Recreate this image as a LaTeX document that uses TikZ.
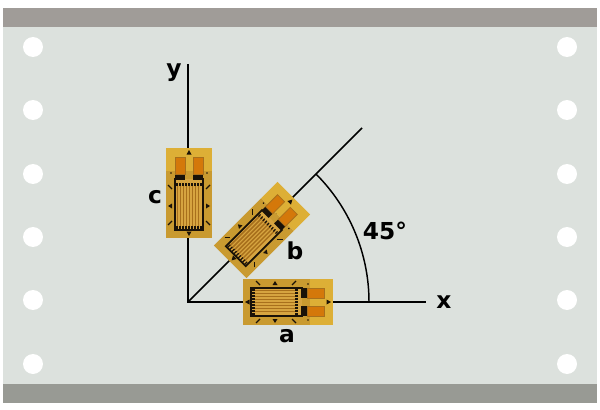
\documentclass[tikz,border=0pt]{standalone}
\usepackage{fontspec}
\setmainfont{DejaVu Sans}
\definecolor{panel}{HTML}{DCE1DD}
\definecolor{bandtop}{HTML}{A09C98}
\definecolor{bandbot}{HTML}{989A94}
\definecolor{backdark}{HTML}{C99A30}
\definecolor{backlight}{HTML}{DDAF36}
\definecolor{padorange}{HTML}{D4780A}
\definecolor{gridbrown}{HTML}{A8701C}
\definecolor{gridlight}{HTML}{D6A440}
\definecolor{inkdark}{HTML}{1A1208}
\tikzset{
  lbl/.style={font=\bfseries\fontsize{17.5}{19}\selectfont,text=black,inner sep=0pt},
  mark tick/.style={draw=inkdark,line width=0.9pt},
  gauge/.pic={
    % Backing
    \fill[backdark] (-45,-23) rectangle (22,23);
    \fill[backlight] (22,-23) rectangle (45,23);
    % Grid
    \fill[gridlight] (-36,-13) rectangle (14,13);
    \foreach \gy in {-11.5,-8.5,...,12}
      \draw[gridbrown,line width=1.1pt] (-34,\gy) -- (9,\gy);
    \foreach \gy in {-12,-9,...,12} {
      \draw[inkdark,line width=0.9pt] (-36.5,\gy) -- (-33,\gy);
      \draw[inkdark,line width=0.9pt] (7,\gy) -- (10,\gy);
    }
    % Outline
    \draw[inkdark,line width=1.3pt] (14,4) -- (14,14) -- (-37,14) -- (-37,-14) -- (14,-14) -- (14,-4);
    % Pads
    \fill[inkdark] (14,4) rectangle (20,14);
    \fill[inkdark] (14,-14) rectangle (20,-4);
    \fill[padorange] (19,4) rectangle (36,14);
    \fill[padorange] (19,-14) rectangle (36,-4);
    \draw[gridbrown,line width=0.6pt] (19,4) rectangle (36,14);
    \draw[gridbrown,line width=0.6pt] (19,-14) rectangle (36,-4);
    % Alignment marks
    \foreach \s in {1,-1} {
      \draw[mark tick] (-32,{\s*21}) -- (-28,{\s*17});
      \draw[mark tick] (4,{\s*17}) -- (8,{\s*21});
      \fill[inkdark] (-13,{\s*21}) -- (-15.5,{\s*17}) -- (-10.5,{\s*17}) -- cycle;
      \fill[inkdark] (20,{\s*18}) circle (0.9);
    }
    \fill[inkdark] (-43,0) -- (-38.5,-2.5) -- (-38.5,2.5) -- cycle;
    \fill[inkdark] (43,0) -- (38.5,-2.5) -- (38.5,2.5) -- cycle;
  }
}
\begin{document}
\begin{tikzpicture}[x=0.75pt,y=-0.75pt]
\useasboundingbox (0,0) rectangle (600,410);
% Panel and bands
\fill[panel] (3,8) rectangle (597,403);
\fill[bandtop] (3,8) rectangle (597,27);
\fill[bandbot] (3,384) rectangle (597,403);
% Holes
\foreach \hy in {47,110,174,237,300,364} {
  \fill[white] (33,\hy) circle (10);
  \fill[white] (567,\hy) circle (10);
}
% Axes
\coordinate (origin) at (188,302);
\coordinate (yend) at (188,64);
\coordinate (xend) at (426,302);
\coordinate (diagend) at (362,128);
\draw[line width=1.5pt] (yend) -- (origin) -- (xend);
\draw[line width=1.1pt] (origin) -- (diagend);
% Angle arc
\draw[line width=1.1pt] (369,302) arc[start angle=0,end angle=-45,radius=181];
% Gauges
\pic[rotate=0] at (288,302) {gauge};
\pic[rotate=45] at (262,230) {gauge};
\pic[rotate=90] at (189,193) {gauge};
% Labels
\node[lbl] (ylbl) at (174,73) {y};
\node[lbl] (xlbl) at (444,302) {x};
\node[lbl] (albl) at (287,336) {a};
\node[lbl] (blbl) at (295,251) {b};
\node[lbl] (clbl) at (155,197) {c};
\node[lbl] (anglbl) at (385,231) {45°};
\end{tikzpicture}
\end{document}
